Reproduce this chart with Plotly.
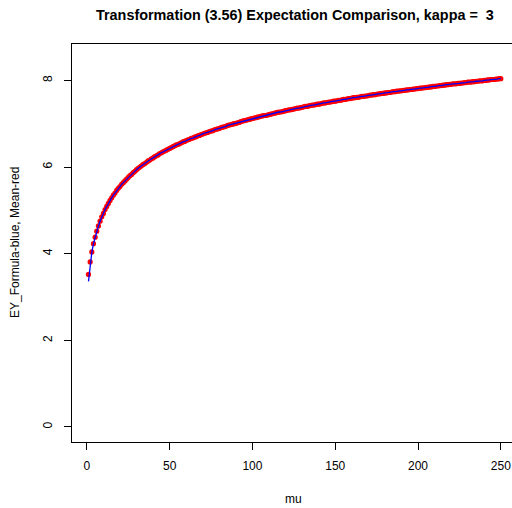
import plotly.graph_objects as go

# mu grid and the two expectation curves for kappa = 3
mu = list(range(1, 251))

mean_red = [
    3.52, 3.81, 4.04, 4.23, 4.38, 4.52, 4.64, 4.75, 4.85, 4.93,
    5.02, 5.09, 5.16, 5.23, 5.29, 5.35, 5.40, 5.46, 5.51, 5.55,
    5.60, 5.64, 5.68, 5.72, 5.76, 5.80, 5.83, 5.87, 5.90, 5.94,
    5.97, 6.00, 6.03, 6.06, 6.08, 6.11, 6.14, 6.16, 6.19, 6.21,
    6.24, 6.26, 6.28, 6.31, 6.33, 6.35, 6.37, 6.39, 6.41, 6.43,
    6.45, 6.47, 6.49, 6.51, 6.52, 6.54, 6.56, 6.58, 6.59, 6.61,
    6.63, 6.64, 6.66, 6.67, 6.69, 6.70, 6.72, 6.73, 6.75, 6.76,
    6.78, 6.79, 6.80, 6.82, 6.83, 6.84, 6.86, 6.87, 6.88, 6.89,
    6.91, 6.92, 6.93, 6.94, 6.96, 6.97, 6.98, 6.99, 7.00, 7.01,
    7.02, 7.03, 7.05, 7.06, 7.07, 7.08, 7.09, 7.10, 7.11, 7.12,
    7.13, 7.14, 7.15, 7.16, 7.17, 7.18, 7.19, 7.19, 7.20, 7.21,
    7.22, 7.23, 7.24, 7.25, 7.26, 7.27, 7.27, 7.28, 7.29, 7.30,
    7.31, 7.32, 7.32, 7.33, 7.34, 7.35, 7.36, 7.36, 7.37, 7.38,
    7.39, 7.40, 7.40, 7.41, 7.42, 7.43, 7.43, 7.44, 7.45, 7.45,
    7.46, 7.47, 7.48, 7.48, 7.49, 7.50, 7.50, 7.51, 7.52, 7.52,
    7.53, 7.54, 7.54, 7.55, 7.56, 7.56, 7.57, 7.58, 7.58, 7.59,
    7.60, 7.60, 7.61, 7.61, 7.62, 7.63, 7.63, 7.64, 7.64, 7.65,
    7.66, 7.66, 7.67, 7.67, 7.68, 7.69, 7.69, 7.70, 7.70, 7.71,
    7.71, 7.72, 7.72, 7.73, 7.74, 7.74, 7.75, 7.75, 7.76, 7.76,
    7.77, 7.77, 7.78, 7.78, 7.79, 7.79, 7.80, 7.80, 7.81, 7.81,
    7.82, 7.82, 7.83, 7.83, 7.84, 7.84, 7.85, 7.85, 7.86, 7.86,
    7.87, 7.87, 7.88, 7.88, 7.89, 7.89, 7.90, 7.90, 7.91, 7.91,
    7.92, 7.92, 7.92, 7.93, 7.93, 7.94, 7.94, 7.95, 7.95, 7.96,
    7.96, 7.96, 7.97, 7.97, 7.98, 7.98, 7.99, 7.99, 7.99, 8.00,
    8.00, 8.01, 8.01, 8.02, 8.02, 8.02, 8.03, 8.03, 8.04, 8.04,
]

formula_blue = [3.36, 3.77, 4.03] + mean_red[3:]

x_ticks = [0, 50, 100, 150, 200, 250]
y_ticks = [0, 2, 4, 6, 8]

FONT = "Liberation Sans, Arial, Helvetica, sans-serif"

fig = go.Figure()

fig.add_trace(go.Scatter(
    x=mu, y=mean_red, mode="markers",
    marker=dict(color="#FF0000", size=5.2, line=dict(width=0)),
    showlegend=False, hoverinfo="skip",
))
fig.add_trace(go.Scatter(
    x=mu, y=formula_blue, mode="lines",
    line=dict(color="#0000FF", width=1.3),
    showlegend=False, hoverinfo="skip",
))

axis_common = dict(
    showgrid=False, zeroline=False,
    ticks="outside", ticklen=7, tickwidth=1, tickcolor="black",
    showline=True, linecolor="black", linewidth=1,
    tickfont=dict(family=FONT, size=12, color="black"),
)

fig.update_xaxes(
    range=[-8.96, 256.75],
    tickmode="array", tickvals=x_ticks, ticktext=[str(v) for v in x_ticks],
    mirror=True, ticklabelstandoff=6,
    **axis_common,
)
fig.update_yaxes(
    range=[-0.347, 8.84],
    tickmode="array", tickvals=y_ticks, ticktext=[str(v) for v in y_ticks],
    tickangle=-90, ticklabelstandoff=7,
    **axis_common,
)

fig.update_layout(
    width=512, height=508,
    margin=dict(l=72, r=0, t=44, b=66, pad=0),
    paper_bgcolor="white", plot_bgcolor="white",
    font=dict(family=FONT, size=12, color="black"),
    annotations=[
        dict(text="<b>Transformation (3.56) Expectation Comparison, kappa =  3</b>",
             xref="paper", yref="paper", x=0.507, y=1 + 28.5 / 398,
             xanchor="center", yanchor="middle", showarrow=False,
             font=dict(family=FONT, size=14.4, color="black")),
        dict(text="mu", xref="paper", yref="paper", x=0.5045, y=-56.7 / 398,
             xanchor="center", yanchor="middle", showarrow=False,
             font=dict(family=FONT, size=12, color="black")),
        dict(text="EY_Formula-blue, Mean-red", xref="paper", yref="paper",
             x=(15 - 72) / 440, y=0.5, textangle=-90,
             xanchor="center", yanchor="middle", showarrow=False,
             font=dict(family=FONT, size=12, color="black")),
    ],
)

fig.write_html("out.html")
